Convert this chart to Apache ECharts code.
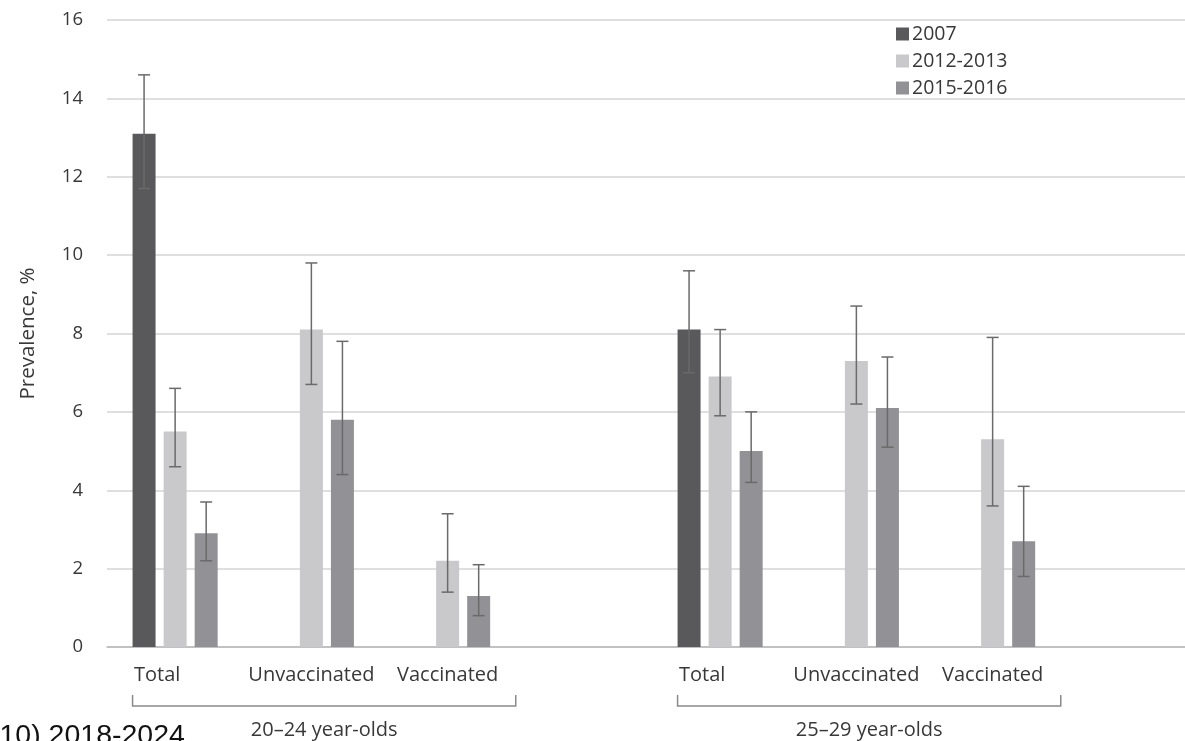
<!DOCTYPE html>
<html>
<head>
<meta charset="utf-8">
<title>HPV prevalence by vaccination status</title>
<script src="https://cdn.jsdelivr.net/npm/echarts@6/dist/echarts.min.js"></script>
<style>
  html, body { margin: 0; padding: 0; background: #ffffff; }
  #chart { width: 1185px; height: 741px; }
</style>
</head>
<body>
<div id="chart"></div>
<script>
// Category slots; blank slots separate the two age groups
const categories = ['Total', 'Unvaccinated', 'Vaccinated', '', 'Total', 'Unvaccinated', 'Vaccinated', ''];
const groupLabels = ['20\u201324 year-olds', '25\u201329 year-olds'];
const groupSpans = [[0, 2], [4, 6]];
const yTicks = [0, 2, 4, 6, 8, 10, 12, 14, 16];

// Prevalence (%) with 95% CI bounds
const prev2007 = [13.1, null, null, null, 8.1, null, null, null];
const low2007 = [11.7, null, null, null, 7.0, null, null, null];
const high2007 = [14.6, null, null, null, 9.6, null, null, null];

const prev2012 = [5.5, 8.1, 2.2, null, 6.9, 7.3, 5.3, null];
const low2012 = [4.6, 6.7, 1.4, null, 5.9, 6.2, 3.6, null];
const high2012 = [6.6, 9.8, 3.4, null, 8.1, 8.7, 7.9, null];

const prev2015 = [2.9, 5.8, 1.3, null, 5.0, 6.1, 2.7, null];
const low2015 = [2.2, 4.4, 0.8, null, 4.2, 5.1, 1.8, null];
const high2015 = [3.7, 7.8, 2.1, null, 6.0, 7.4, 4.1, null];

const seriesNames = ['2007', '2012-2013', '2015-2016'];
const seriesColors = ['#59595b', '#c9c9cb', '#929296'];

const BAR_W = 23;
const BAR_GAP = 0.35;
const TEXT = '#383838';
const FONT = 'Open Sans';

const chart = echarts.init(document.getElementById('chart'), null, { renderer: 'canvas' });

function errorData(low, high) {
  const out = [];
  low.forEach((v, i) => {
    if (v != null && high[i] != null) out.push([i, v, high[i]]);
  });
  return out;
}

function errorSeries(k, low, high) {
  const shift = (k - 1) * BAR_W * (1 + BAR_GAP);
  return {
    type: 'custom',
    name: seriesNames[k] + ' CI',
    z: 5,
    silent: true,
    data: errorData(low, high),
    renderItem: function (params, api) {
      const x = api.coord([api.value(0), 0])[0] + shift;
      const yLo = api.coord([api.value(0), api.value(1)])[1];
      const yHi = api.coord([api.value(0), api.value(2)])[1];
      const cap = 6;
      const style = { stroke: '#6a6a6a', lineWidth: 1.5 };
      return {
        type: 'group',
        children: [
          { type: 'line', shape: { x1: x, y1: yLo, x2: x, y2: yHi }, style: style },
          { type: 'line', shape: { x1: x - cap, y1: yHi, x2: x + cap, y2: yHi }, style: style },
          { type: 'line', shape: { x1: x - cap, y1: yLo, x2: x + cap, y2: yLo }, style: style }
        ]
      };
    }
  };
}

function barSeries(k, values) {
  return {
    type: 'bar',
    name: seriesNames[k],
    data: values,
    barWidth: BAR_W,
    barGap: (BAR_GAP * 100) + '%',
    itemStyle: { color: seriesColors[k] },
    z: 2
  };
}

const option = {
  animation: false,
  backgroundColor: '#ffffff',
  textStyle: { fontFamily: FONT },
  grid: { left: 107, top: 20, right: -12, bottom: 94, outerBoundsMode: 'none', containLabel: false },
  legend: {
    orient: 'vertical',
    left: 891,
    top: 19,
    itemWidth: 13,
    itemHeight: 13,
    itemGap: 7,
    icon: 'rect',
    data: seriesNames,
    textStyle: { color: TEXT, fontSize: 19.5, fontFamily: FONT, padding: [0, 0, 0, -2] }
  },
  xAxis: {
    type: 'category',
    data: categories,
    axisLine: { lineStyle: { color: '#b8b8b8', width: 1.5 } },
    axisTick: { show: false },
    axisLabel: {
      color: TEXT,
      fontSize: 20,
      fontFamily: FONT,
      margin: 18,
      interval: 0,
      formatter: function (v) {
        return v === 'Total' ? '{t|' + v + '}' : v;
      },
      rich: {
        t: { color: TEXT, fontSize: 20, fontFamily: FONT, padding: [0, 36, 0, 0] }
      }
    }
  },
  yAxis: {
    type: 'value',
    min: yTicks[0],
    max: yTicks[yTicks.length - 1],
    interval: yTicks[1] - yTicks[0],
    name: 'Prevalence, %',
    nameLocation: 'middle',
    nameGap: 68,
    nameTextStyle: { color: TEXT, fontSize: 20.5, fontFamily: FONT },
    axisLine: { show: false },
    axisTick: { show: false },
    axisLabel: { color: TEXT, fontSize: 18.5, fontFamily: FONT, margin: 24 },
    splitLine: { lineStyle: { color: '#d4d4d4', width: 1.5 } }
  },
  series: [
    barSeries(0, prev2007),
    barSeries(1, prev2012),
    barSeries(2, prev2015),
    errorSeries(0, low2007, high2007),
    errorSeries(1, low2012, high2012),
    errorSeries(2, low2015, high2015)
  ]
};

chart.setOption(option);

// Group brackets and age-group captions beneath the category labels
function drawGroups() {
  const px = (i) => chart.convertToPixel({ xAxisIndex: 0 }, i);
  const band = px(1) - px(0);
  const barLeft = BAR_W * (1 + BAR_GAP) + BAR_W / 2;
  const lineY = 706;
  const tickTop = 695;
  const elements = [];
  groupSpans.forEach((span, g) => {
    const x0 = px(span[0]) - barLeft;
    const x1 = px(span[1]) + band / 2;
    elements.push({
      type: 'polyline',
      shape: { points: [[x0, tickTop], [x0, lineY], [x1, lineY], [x1, tickTop]] },
      style: { stroke: '#8a8a8a', lineWidth: 1.5, fill: null },
      silent: true
    });
    elements.push({
      type: 'text',
      x: (x0 + x1) / 2,
      y: 730,
      style: {
        text: groupLabels[g],
        fill: TEXT,
        font: '20px "' + FONT + '"',
        textAlign: 'center',
        textVerticalAlign: 'middle'
      },
      silent: true
    });
  });
  elements.push({
    type: 'text',
    x: -10,
    y: 722,
    style: {
      text: '(10) 2018-2024',
      fill: '#111111',
      font: '28.5px "Liberation Sans", Arial, sans-serif',
      textAlign: 'left',
      textVerticalAlign: 'top'
    },
    silent: true
  });
  chart.setOption({ graphic: { elements: elements } });
}

drawGroups();
</script>
</body>
</html>
